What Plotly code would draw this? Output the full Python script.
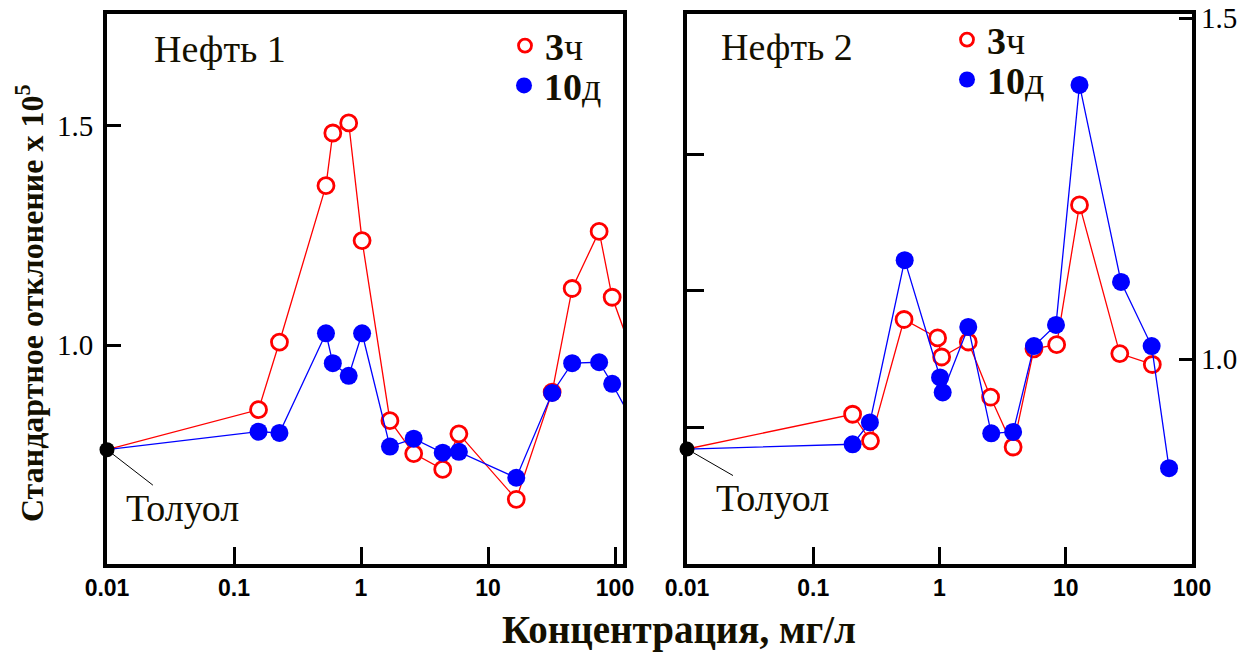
import plotly.graph_objects as go

# ---------------- data ----------------
toluene_x = 0.01
toluene1_y = 0.762
toluene2_y = 0.868

# Нефть 1
conc1 = [0.156, 0.228, 0.53, 0.60, 0.80, 1.02, 1.69, 2.6, 4.4, 5.9, 16.7, 32, 46, 75, 95, 130]
red1 = [0.853, 1.007, 1.363, 1.483, 1.506, 1.238, 0.828, 0.753, 0.717, 0.798, 0.649, 0.893, 1.129, 1.259, 1.109, 1.0]
blue1 = [0.803, 0.800, 1.027, 0.959, 0.930, 1.027, 0.769, 0.787, 0.755, 0.757, 0.698, 0.891, 0.959, 0.961, 0.912, 0.84]

# Нефть 2
conc2_red = [0.205, 0.284, 0.524, 0.966, 1.04, 1.69, 2.54, 3.83, 5.6, 8.47, 12.85, 26.8, 48.5]
red2 = [0.919, 0.880, 1.058, 1.031, 1.003, 1.025, 0.944, 0.871, 1.015, 1.021, 1.226, 1.008, 0.992]
conc2_blue = [0.205, 0.281, 0.53, 1.01, 1.06, 1.69, 2.57, 3.83, 5.6, 8.37, 12.85, 27.4, 47.9, 65.8]
blue2 = [0.875, 0.907, 1.145, 0.973, 0.951, 1.047, 0.891, 0.893, 1.019, 1.050, 1.402, 1.113, 1.019, 0.840]

x_tickvals = [0.01, 0.1, 1, 10, 100]
x_ticktext = ["0.01", "0.1", "1", "10", "100"]
y1_tickvals = [1.0, 1.5]
y1_ticktext = ["1.0", "1.5"]
y2_tickvals = [0.9, 1.1, 1.3]
y3_tickvals = [1.0, 1.5]
y3_ticktext = ["1.0", "1.5"]

label_3h = "<b>3</b>ч"
label_10d = "<b>10</b>д"
panel1_title = "Нефть 1"
panel2_title = "Нефть 2"
toluene_label = "Толуол"
x_title = "Концентрация, мг/л"
y_title = "Стандартное отклонение x 10<sup>5</sup>"

# ---------------- layout helpers ----------------
PAGE_OFF = 8           # default body margin of the html page
W, H = 1245, 646       # figure size (page is 1253x654)

def px(x):             # page pixel -> paper fraction
    return (x - PAGE_OFF) / W

def py(y):
    return 1 - (y - PAGE_OFF) / H

RED = "#ff0000"
BLUE = "#0000ff"
SERIF = "Liberation Serif"
SANS = "Liberation Sans"
TXT = "#141000"

fig = go.Figure()

def add_series(xs, ys, tol_y, color, filled, xa, ya, n_size):
    sizes = [0] + [n_size] * len(xs)
    fig.add_trace(go.Scatter(
        x=[toluene_x] + list(xs), y=[tol_y] + list(ys),
        mode="lines+markers", xaxis=xa, yaxis=ya, showlegend=False,
        line=dict(color=color, width=1.3),
        marker=dict(size=sizes, symbol="circle", opacity=1,
                    color=color if filled else "white",
                    line=dict(color=color, width=0 if filled else 2.8)),
        hoverinfo="skip",
    ))

# panel 1
add_series(conc1, red1, toluene1_y, RED, False, "x", "y", 16)
add_series(conc1, blue1, toluene1_y, BLUE, True, "x", "y", 18)
# panel 2
add_series(conc2_red, red2, toluene2_y, RED, False, "x2", "y2", 16)
add_series(conc2_blue, blue2, toluene2_y, BLUE, True, "x2", "y2", 18)

# toluene points
fig.add_trace(go.Scatter(x=[toluene_x], y=[toluene1_y], mode="markers", xaxis="x", yaxis="y",
                         marker=dict(size=15, color="black", opacity=1), cliponaxis=False, showlegend=False))
fig.add_trace(go.Scatter(x=[toluene_x], y=[toluene2_y], mode="markers", xaxis="x2", yaxis="y2",
                         marker=dict(size=15, color="black", opacity=1), cliponaxis=False, showlegend=False))

# legend entries (one legend per entry, so that each can be placed freely)
legend_items = [
    ("legend", "x", "y", label_3h, False),
    ("legend2", "x", "y", label_10d, True),
    ("legend3", "x2", "y2", label_3h, False),
    ("legend4", "x2", "y2", label_10d, True),
]
for leg, xa, ya, name, filled in legend_items:
    if filled:
        mk = dict(size=16, color=BLUE, opacity=1)
    else:
        mk = dict(size=13, color="white", opacity=1, line=dict(color=RED, width=2.8))
    fig.add_trace(go.Scatter(x=[None], y=[None], mode="markers", xaxis=xa, yaxis=ya, name=name,
                             legend=leg, marker=mk))

# a dummy trace on yaxis3 so it renders
fig.add_trace(go.Scatter(x=[None], y=[None], xaxis="x2", yaxis="y3", showlegend=False))

ydom = [py(564), py(12)]
common_x = dict(type="log", tickvals=x_tickvals, ticktext=x_ticktext, ticks="inside", ticklen=17,
                tickwidth=3, tickcolor="black", showline=True, linewidth=4, linecolor="black",
                mirror=True, showgrid=False, zeroline=False, automargin=False,
                tickfont=dict(family=SANS, size=23, color="black", weight="bold"),
                ticklabelstandoff=0, ticklabeloverflow="allow")

def leg_layout(xc, yc):
    return dict(x=px(xc - 20), y=py(yc), xanchor="left", yanchor="middle", bgcolor="rgba(0,0,0,0)",
                font=dict(family=SERIF, size=38, color=TXT), borderwidth=0)

fig.update_layout(
    width=W, height=H, autosize=False,
    margin=dict(l=0, r=0, t=0, b=0, pad=0),
    paper_bgcolor="white", plot_bgcolor="white",
    xaxis=dict(domain=[px(107), px(623)], range=[-2, 2.063], anchor="y", **common_x),
    xaxis2=dict(domain=[px(687), px(1192)], range=[-2, 2], anchor="y2", **common_x),
    yaxis=dict(domain=ydom, range=[0.501, 1.754], anchor="x", tickvals=y1_tickvals, ticktext=y1_ticktext,
               ticks="inside", ticklen=14, tickwidth=3, tickcolor="black", showline=True, linewidth=4,
               linecolor="black", mirror=True, showgrid=False, zeroline=False, automargin=False,
               tickfont=dict(family=SERIF, size=29, color="black"), ticklabelstandoff=4,
               ticklabeloverflow="allow"),
    yaxis2=dict(domain=ydom, range=[0.699, 1.506], anchor="x2", tickvals=y2_tickvals,
                ticks="inside", ticklen=17, tickwidth=3, tickcolor="black", showline=True, linewidth=4,
                linecolor="black", mirror=True, showgrid=False, zeroline=False, showticklabels=False,
                automargin=False),
    yaxis3=dict(overlaying="y2", side="right", anchor="x2", range=[0.699, 1.506], tickvals=y3_tickvals,
                ticktext=y3_ticktext, ticks="inside", ticklen=13, tickwidth=3, tickcolor="black",
                showline=False, showgrid=False, zeroline=False, automargin=False,
                tickfont=dict(family=SERIF, size=29, color="black"), ticklabelstandoff=8,
                ticklabeloverflow="allow"),
    legend=leg_layout(525, 44),
    legend2=leg_layout(524, 84),
    legend3=leg_layout(967, 38),
    legend4=leg_layout(967, 78),
    showlegend=True,
)

def text_ann(text, x, y, size, bold=False, angle=0):
    f = dict(family=SERIF, size=size, color=TXT)
    if bold:
        f["weight"] = "bold"
    return dict(text=text, x=px(x), y=py(y), xref="paper", yref="paper", showarrow=False,
                xanchor="center", yanchor="middle", textangle=angle, font=f)

ann = [
    text_ann(panel1_title, 220, 47, 38),
    text_ann(panel2_title, 787, 45, 38),
    text_ann(x_title, 679, 630, 39, bold=True),
    text_ann(y_title, 30, 302, 32, bold=True, angle=-90),
]
ann.append(dict(text=toluene_label, x=-2, y=toluene1_y, xref="x", yref="y", showarrow=True,
                arrowhead=0, arrowwidth=1, arrowcolor="black", ax=75, ay=58, standoff=0,
                font=dict(family=SERIF, size=38, color=TXT)))
ann.append(dict(text=toluene_label, x=-2, y=toluene2_y, xref="x2", yref="y2", showarrow=True,
                arrowhead=0, arrowwidth=1, arrowcolor="black", ax=85, ay=49, standoff=0,
                font=dict(family=SERIF, size=38, color=TXT)))
fig.update_layout(annotations=ann)

fig.write_html("out.html")
